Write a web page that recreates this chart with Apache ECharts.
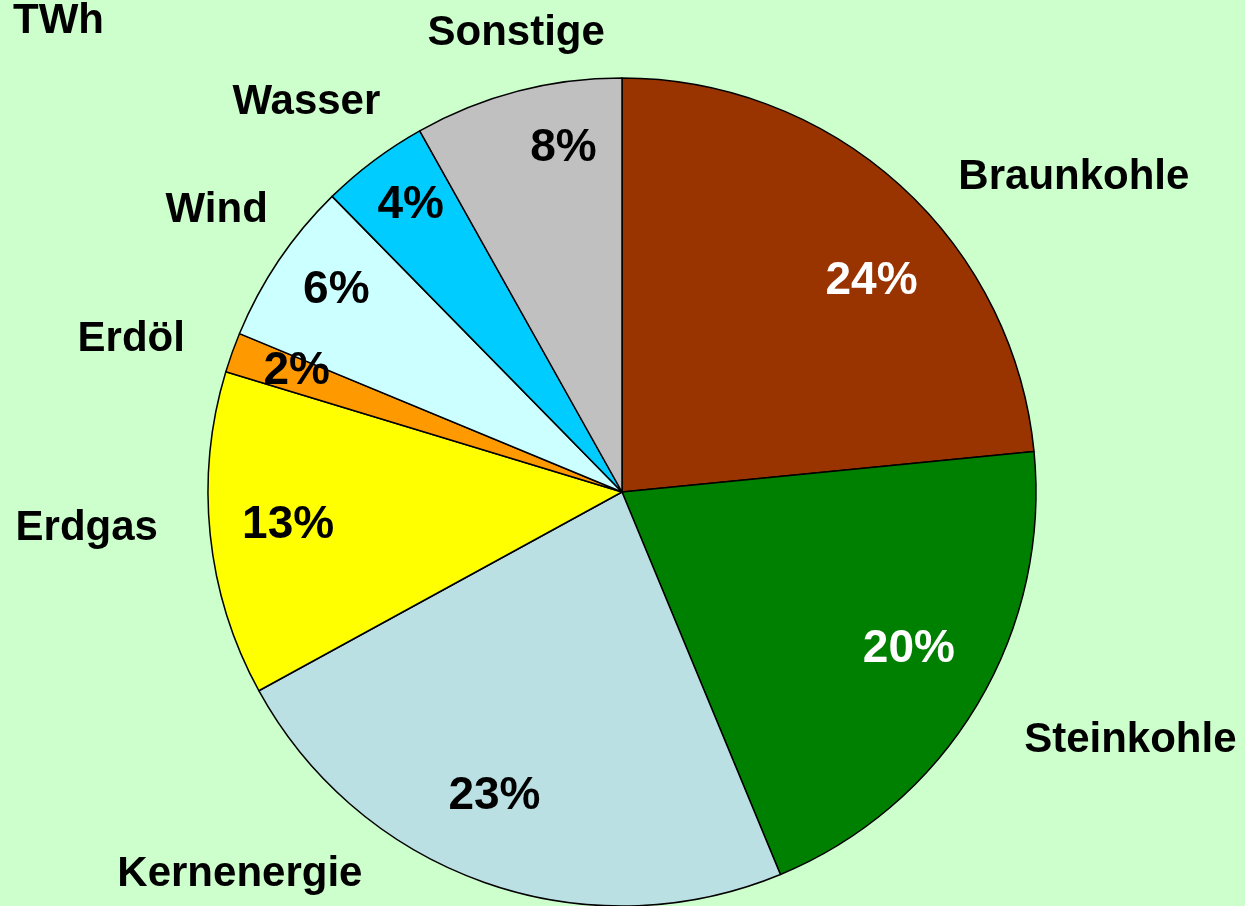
<!DOCTYPE html>
<html>
<head>
<meta charset="utf-8">
<script src="https://cdn.jsdelivr.net/npm/echarts@6/dist/echarts.min.js"></script>
<style>
  html, body { margin: 0; padding: 0; background: #ccffcc; }
  #chart { width: 1245px; height: 906px; }
</style>
</head>
<body>
<div id="chart"></div>
<script>
// Stromerzeugung nach Energieträgern (TWh), clockwise from 12 o'clock
const sources = ['Braunkohle', 'Steinkohle', 'Kernenergie', 'Erdgas', 'Erdöl', 'Wind', 'Wasser', 'Sonstige']
const twh = [150, 130, 149, 81, 10, 41, 27, 52]
const shareLabels = ['24%', '20%', '23%', '13%', '2%', '6%', '4%', '8%']

const colors = ['#993300', '#008000', '#bbe0e3', '#ffff00', '#ff9900', '#ccffff', '#00ccff', '#c0c0c0']
const shareColors = ['#ffffff', '#ffffff', '#000000', '#000000', '#000000', '#000000', '#000000', '#000000']
// small nudges so labels sit where the original chart put them
const shareNudge = [[14, 49], [-14, -23], [-11, -27], [15, -3], [5, -3], [5, -5], [-1, -6], [30, -4]]
const nameNudge = [[104, 69], [64, -18], [-210, -106], [-20, -17], [-3, 22], [24, 8], [-5, 25], [25, 43]]

const center = [622, 492]
const R = 414
const font = 'Liberation Sans, Arial, sans-serif'

const sliceData = sources.map((name, i) => ({
  name: name,
  value: twh[i],
  itemStyle: { color: colors[i] }
}))
const shareData = sources.map((name, i) => ({
  name: name,
  value: twh[i],
  label: { color: shareColors[i] }
}))

let chart = echarts.init(document.getElementById('chart'))
const option = {
  backgroundColor: '#ccffcc',
  animation: false,
  title: {
    text: 'TWh',
    left: 13,
    top: 0,
    padding: 0,
    textStyle: { fontFamily: font, fontSize: 42, fontWeight: 'bold', color: '#000' }
  },
  series: [
    {
      // the slices
      type: 'pie',
      center: center,
      radius: [0, R],
      startAngle: 90,
      clockwise: true,
      avoidLabelOverlap: false,
      silent: true,
      label: { show: false },
      labelLine: { show: false },
      itemStyle: { borderColor: '#000', borderWidth: 1.5 },
      data: sliceData
    },
    {
      // percentage labels inside the slices
      type: 'pie',
      center: center,
      radius: [R * 0.68, R],
      startAngle: 90,
      clockwise: true,
      avoidLabelOverlap: false,
      silent: true,
      itemStyle: { color: 'transparent', borderWidth: 0 },
      label: {
        show: true,
        position: 'inside',
        formatter: p => shareLabels[p.dataIndex],
        fontFamily: font,
        fontSize: 46,
        fontWeight: 'bold'
      },
      labelLine: { show: false },
      labelLayout: p => ({ dx: shareNudge[p.dataIndex][0], dy: shareNudge[p.dataIndex][1] }),
      data: shareData
    },
    {
      // category names around the pie
      type: 'pie',
      center: center,
      radius: [R, R * 1.488],
      startAngle: 90,
      clockwise: true,
      avoidLabelOverlap: false,
      silent: true,
      itemStyle: { color: 'transparent', borderWidth: 0 },
      label: {
        show: true,
        position: 'inside',
        formatter: '{b}',
        color: '#000',
        fontFamily: font,
        fontSize: 42,
        fontWeight: 'bold'
      },
      labelLine: { show: false },
      labelLayout: p => ({ dx: nameNudge[p.dataIndex][0], dy: nameNudge[p.dataIndex][1] }),
      data: sources.map((name, i) => ({ name: name, value: twh[i] }))
    }
  ]
}
chart.setOption(option)
</script>
</body>
</html>
